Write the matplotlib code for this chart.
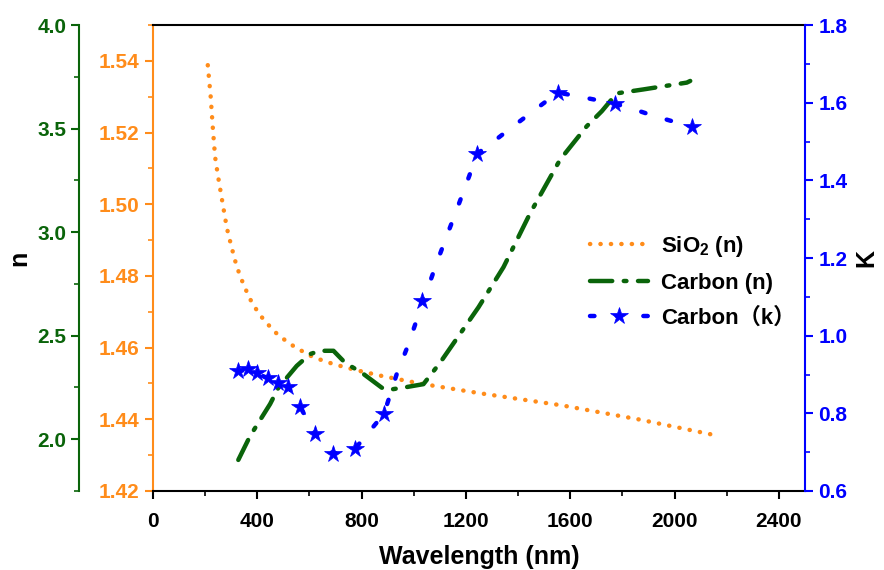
import matplotlib
matplotlib.use("Agg")
import matplotlib.pyplot as plt
from matplotlib.ticker import MultipleLocator

plt.rcParams['font.family'] = ['Liberation Sans', 'Noto Sans CJK SC', 'DejaVu Sans']
plt.rcParams['font.weight'] = 'bold'
plt.rcParams['mathtext.fontset'] = 'custom'
plt.rcParams['mathtext.bf'] = 'Liberation Sans:bold'
plt.rcParams['mathtext.default'] = 'bf'

ORANGE = '#FF8C1A'
GREEN = '#0A640A'
BLUE = '#0000FF'

# SiO2 refractive index
sio2_wl = [210, 221, 229, 238, 250, 263, 283, 302, 321, 349, 382, 426, 481, 545,
           615, 692, 780, 877, 1030, 1260, 1567, 1868, 2140]
sio2_n = [1.5388, 1.5301, 1.5216, 1.5132, 1.5075, 1.5019, 1.4934, 1.4878, 1.4826,
          1.4772, 1.4721, 1.4676, 1.4634, 1.4601, 1.4573, 1.4554, 1.4537, 1.4521,
          1.4499, 1.4472, 1.4439, 1.4399, 1.4358]

# Carbon refractive index
cn_wl = [327, 372, 449, 481, 551, 602, 640, 692, 736, 806, 877, 901, 973, 1037,
         1101, 1248, 1344, 1446, 1561, 1663, 1721, 1778, 1880, 2047, 2060]
cn_n = [1.90, 2.015, 2.17, 2.249, 2.354, 2.411, 2.427, 2.427, 2.37, 2.316, 2.249,
        2.238, 2.252, 2.266, 2.37, 2.637, 2.831, 3.091, 3.35, 3.511, 3.584, 3.67,
        3.689, 3.722, 3.73]

# Carbon extinction coefficient
ck_wl = [326, 364, 399, 441, 479, 518, 564, 621, 690, 775, 886, 934, 979, 1016,
         1030, 1050, 1088, 1130, 1171, 1213, 1241, 1277, 1369, 1461, 1552, 1593,
         1708, 1772, 1817, 1925, 2034, 2066]
ck_k = [0.908, 0.913, 0.903, 0.890, 0.877, 0.869, 0.817, 0.747, 0.696, 0.709,
        0.799, 0.90, 0.977, 1.05, 1.089, 1.115, 1.188, 1.263, 1.336, 1.412, 1.468,
        1.485, 1.533, 1.58, 1.626, 1.621, 1.606, 1.597, 1.589, 1.565, 1.544, 1.537]
star_idx = [0, 1, 2, 3, 4, 5, 6, 7, 8, 9, 10, 14, 20, 24, 27, 31]

fig = plt.figure(figsize=(8.84, 5.70), dpi=100)
ax = fig.add_axes([0.1731, 0.1386, 0.7375, 0.8175])
ax2 = ax.twinx()
ax3 = ax.twinx()

l1, = ax.plot(sio2_wl, sio2_n, color=ORANGE, lw=3.2, linestyle=(0, (0.05, 2.3)),
              dash_capstyle='round', label='SiO$_2$ (n)')
l2, = ax2.plot(cn_wl, cn_n, color=GREEN, lw=3.2, linestyle=(0, (5, 2.6, 0.6, 2.6)),
               dash_capstyle='round', label='Carbon (n)')
l3, = ax3.plot(ck_wl, ck_k, color=BLUE, lw=3.2, linestyle=(0, (1.0, 5.0)),
               dash_capstyle='round', marker='*', markersize=13, markevery=star_idx,
               markeredgewidth=0.5, label='Carbon（k）')

tick_fs = 15
# main axis: SiO2
ax.set_xlim(0, 2500)
ax.set_ylim(1.42, 1.55)
ax.xaxis.set_major_locator(MultipleLocator(400))
ax.xaxis.set_minor_locator(MultipleLocator(200))
ax.yaxis.set_minor_locator(MultipleLocator(0.01))
ax.set_yticks([1.42, 1.44, 1.46, 1.48, 1.50, 1.52, 1.54])
ax.spines['left'].set_color(ORANGE)
ax.spines['left'].set_linewidth(1.5)
ax.spines['bottom'].set_linewidth(1.5)
ax.spines['top'].set_linewidth(1.5)
ax.spines['right'].set_visible(False)
ax.tick_params(axis='y', colors=ORANGE, labelsize=tick_fs, direction='out',
               length=6, width=1.5, which='major')
ax.tick_params(axis='y', colors=ORANGE, direction='out', length=3.5, width=1.2,
               which='minor')
ax.tick_params(axis='x', labelsize=tick_fs, direction='out', length=6, width=1.5,
               pad=9, which='major')
ax.tick_params(axis='x', direction='out', length=3.5, width=1.2, which='minor')
ax.set_xlabel('Wavelength (nm)', fontsize=18, fontweight='bold', labelpad=10)

# second axis: Carbon n, offset to the left
ax2.set_ylim(1.75, 4.0)
ax2.spines['left'].set_position(('outward', 53))
ax2.spines['left'].set_color(GREEN)
ax2.spines['left'].set_linewidth(1.5)
ax2.spines['right'].set_visible(False)
ax2.spines['top'].set_visible(False)
ax2.spines['bottom'].set_visible(False)
ax2.yaxis.set_label_position('left')
ax2.yaxis.set_ticks_position('left')
ax2.yaxis.set_minor_locator(MultipleLocator(0.25))
ax2.set_yticks([2.0, 2.5, 3.0, 3.5, 4.0])
ax2.tick_params(axis='y', colors=GREEN, labelsize=tick_fs, length=6, width=1.5,
                which='major')
ax2.tick_params(axis='y', colors=GREEN, length=3.5, width=1.2, which='minor')
ax2.set_ylabel('n', fontsize=18, fontweight='bold', color='black', labelpad=4)

# third axis: Carbon k, right side
ax3.set_ylim(0.6, 1.8)
ax3.spines['right'].set_color(BLUE)
ax3.spines['right'].set_linewidth(1.5)
ax3.spines['left'].set_visible(False)
ax3.spines['top'].set_visible(False)
ax3.spines['bottom'].set_visible(False)
ax3.yaxis.set_major_locator(MultipleLocator(0.2))
ax3.yaxis.set_minor_locator(MultipleLocator(0.1))
ax3.tick_params(axis='y', colors=BLUE, labelsize=tick_fs, length=6, width=1.5,
                which='major')
ax3.tick_params(axis='y', colors=BLUE, length=3.5, width=1.2, which='minor')
ax3.set_ylabel('K', fontsize=18, fontweight='bold', color='black', labelpad=5)

ax3.legend(handles=[l1, l2, l3], loc='upper left', bbox_to_anchor=(0.645, 0.625),
           bbox_transform=fig.transFigure, frameon=False,
           handlelength=2.6, handletextpad=0.6, labelspacing=0.62, numpoints=1,
           prop={'weight': 'bold', 'size': 16,
                 'family': ['Liberation Sans', 'Noto Sans CJK SC']})

fig.savefig('out.png', dpi=100)
